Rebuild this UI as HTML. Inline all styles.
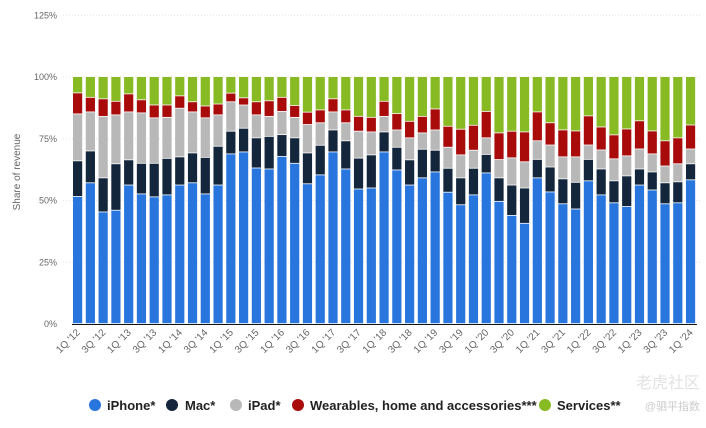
<!DOCTYPE html>
<html><head><meta charset="utf-8"><style>
body{margin:0;background:#fff;width:706px;height:423px;overflow:hidden;font-family:"Liberation Sans",sans-serif}
</style></head><body>
<svg id="chart" width="706" height="423" xmlns="http://www.w3.org/2000/svg" font-family="Liberation Sans, sans-serif">
<g id="grid"></g><g id="bars"></g><g id="xlabels"></g>
<text x="0" y="0" transform="translate(20,172) rotate(-90)" text-anchor="middle" font-size="10" fill="#666">Share of revenue</text>
<g font-size="13" fill="#222" font-weight="bold">
<g><circle cx="95" cy="405" r="6" fill="#2876dd"/><text x="107" y="410">iPhone*</text></g>
<g><circle cx="172" cy="405" r="6" fill="#14263c"/><text x="185" y="410">Mac*</text></g>
<g><circle cx="236" cy="405" r="6" fill="#b8b8b8"/><text x="248" y="410">iPad*</text></g>
<g><circle cx="298" cy="405" r="6" fill="#a90b0b"/><text x="310" y="410">Wearables, home and accessories***</text></g>
<g><circle cx="545" cy="405" r="6" fill="#88ba23"/><text x="557" y="410">Services**</text></g>
</g>
<text x="700" y="410" text-anchor="end" font-size="11" fill="#ccc" font-family="Liberation Sans, Noto Sans CJK SC, sans-serif">@驷平指数</text>
<text x="700" y="388" text-anchor="end" font-size="16" fill="#e2e2e2" font-family="Liberation Sans, Noto Sans CJK SC, sans-serif">老虎社区</text>
</svg>
<script>
const quarters=["1Q '12","2Q '12","3Q '12","4Q '12","1Q '13","2Q '13","3Q '13","4Q '13","1Q '14","2Q '14","3Q '14","4Q '14","1Q '15","2Q '15","3Q '15","4Q '15","1Q '16","2Q '16","3Q '16","4Q '16","1Q '17","2Q '17","3Q '17","4Q '17","1Q '18","2Q '18","3Q '18","4Q '18","1Q '19","2Q '19","3Q '19","4Q '19","1Q '20","2Q '20","3Q '20","4Q '20","1Q '21","2Q '21","3Q '21","4Q '21","1Q '22","2Q '22","3Q '22","4Q '22","1Q '23","2Q '23","3Q '23","4Q '23","1Q '24"];
const iphone=[51.5,57.0,45.2,45.9,56.1,52.5,51.3,52.1,56.1,57.0,52.5,56.1,68.7,69.5,63.0,62.6,67.7,64.9,56.6,60.2,69.5,62.6,54.5,54.9,69.5,62.2,56.1,59.0,61.4,53.2,48.1,52.1,61.0,49.5,43.8,40.6,59.0,53.3,48.5,46.4,57.8,52.1,48.9,47.4,56.1,54.1,48.5,48.9,58.2];
const mac=[14.4,12.9,13.8,18.8,10.2,12.4,13.6,14.8,11.4,12.1,14.8,15.7,9.2,9.6,12.2,13.2,8.8,10.3,12.5,12.0,8.9,11.4,12.5,13.4,8.1,9.2,10.2,11.6,8.8,9.7,10.9,10.8,7.5,9.5,12.3,14.3,7.5,10.1,10.1,10.8,8.7,10.5,8.9,12.4,6.5,7.3,8.5,8.5,6.5];
const ipad=[19.0,15.8,24.9,19.8,19.4,20.4,18.4,16.6,19.7,16.6,16.0,12.7,11.9,9.4,9.3,8.1,9.4,8.3,11.5,9.1,7.3,7.3,10.9,9.3,6.3,7.0,8.9,6.6,8.2,8.5,9.3,7.3,6.7,7.4,11.0,10.6,7.5,8.9,8.9,10.3,5.8,7.7,8.9,8.1,8.1,7.3,6.8,7.3,6.0];
const wearables=[8.5,5.9,7.1,5.5,7.3,5.3,5.2,5.0,5.0,4.1,4.8,4.4,3.5,2.9,5.3,6.3,5.7,4.8,5.0,5.2,5.3,5.2,6.0,5.9,6.1,6.6,6.7,6.7,8.5,8.5,10.4,10.1,10.7,10.8,10.8,12.1,11.7,9.0,10.9,10.5,11.8,9.3,9.7,10.9,11.4,9.3,10.2,10.5,9.7];
const services=[6.6,8.4,9.0,10.0,7.0,9.4,11.5,11.5,7.8,10.2,11.9,11.1,6.7,8.6,10.2,9.8,8.4,11.7,14.4,13.5,9.0,13.5,16.1,16.5,10.0,15.0,18.1,16.1,13.1,20.1,21.3,19.7,14.1,22.8,22.1,22.4,14.3,18.7,21.6,22.0,15.9,20.4,23.6,21.2,17.9,22.0,26.0,24.8,19.6];
const yTicks=[0,25,50,75,100,125];
const NS="http://www.w3.org/2000/svg";
const y0=324,pxPer=(324-77)/100,xStart=73,pitch=12.77,bw=9.2;
const yS=v=>y0-v*pxPer;
const xS=i=>xStart+i*pitch;
const grid=document.getElementById('grid');
yTicks.forEach(t=>{
 if(t>0){const l=document.createElementNS(NS,'line');
 
 
 l.setAttribute('x1',63);l.setAttribute('x2',700);l.setAttribute('y1',yS(t));l.setAttribute('y2',yS(t));
 l.setAttribute('stroke','#e4e4e4');l.setAttribute('stroke-dasharray','1,2');grid.appendChild(l);}
 const tx=document.createElementNS(NS,'text');
 
 
 tx.setAttribute('x',57);tx.setAttribute('y',yS(t)+3);tx.setAttribute('text-anchor','end');
 tx.setAttribute('font-size','9');tx.setAttribute('fill','#666');tx.textContent=t+'%';grid.appendChild(tx);
});
const series=[[iphone,'#2876dd','iphone'],[mac,'#14263c','mac'],[ipad,'#b8b8b8','ipad'],[wearables,'#a90b0b','wearables'],[services,'#88ba23','services']];
const bars=document.getElementById('bars');
quarters.forEach((q,i)=>{
 let cum=0;
 series.forEach(([arr,col,nm])=>{
  const v=arr[i];const r=document.createElementNS(NS,'rect');
  
  
  r.setAttribute('x',xS(i));r.setAttribute('width',bw);
  r.setAttribute('y',yS(cum+v));r.setAttribute('height',Math.max(0,v*pxPer-0.8));
  r.setAttribute('fill',col);bars.appendChild(r);cum+=v;
 });
});
const ax=document.createElementNS(NS,'line');


ax.setAttribute('x1',72);ax.setAttribute('x2',697);ax.setAttribute('y1',324.5);ax.setAttribute('y2',324.5);
ax.setAttribute('stroke','#111');ax.setAttribute('stroke-width','1');bars.appendChild(ax);
const xl=document.getElementById('xlabels');
quarters.forEach((q,i)=>{
 if(i%2)return;
 const cx=xS(i)+bw/2+3,cy=333;
 const t=document.createElementNS(NS,'text');
 
 
 t.setAttribute('x',cx);t.setAttribute('y',cy);t.setAttribute('text-anchor','end');
 t.setAttribute('font-size','10');t.setAttribute('fill','#666');
 t.setAttribute('transform','rotate(-45 '+cx+' '+cy+')');t.textContent=q;xl.appendChild(t);
});
</script>
</body></html>
